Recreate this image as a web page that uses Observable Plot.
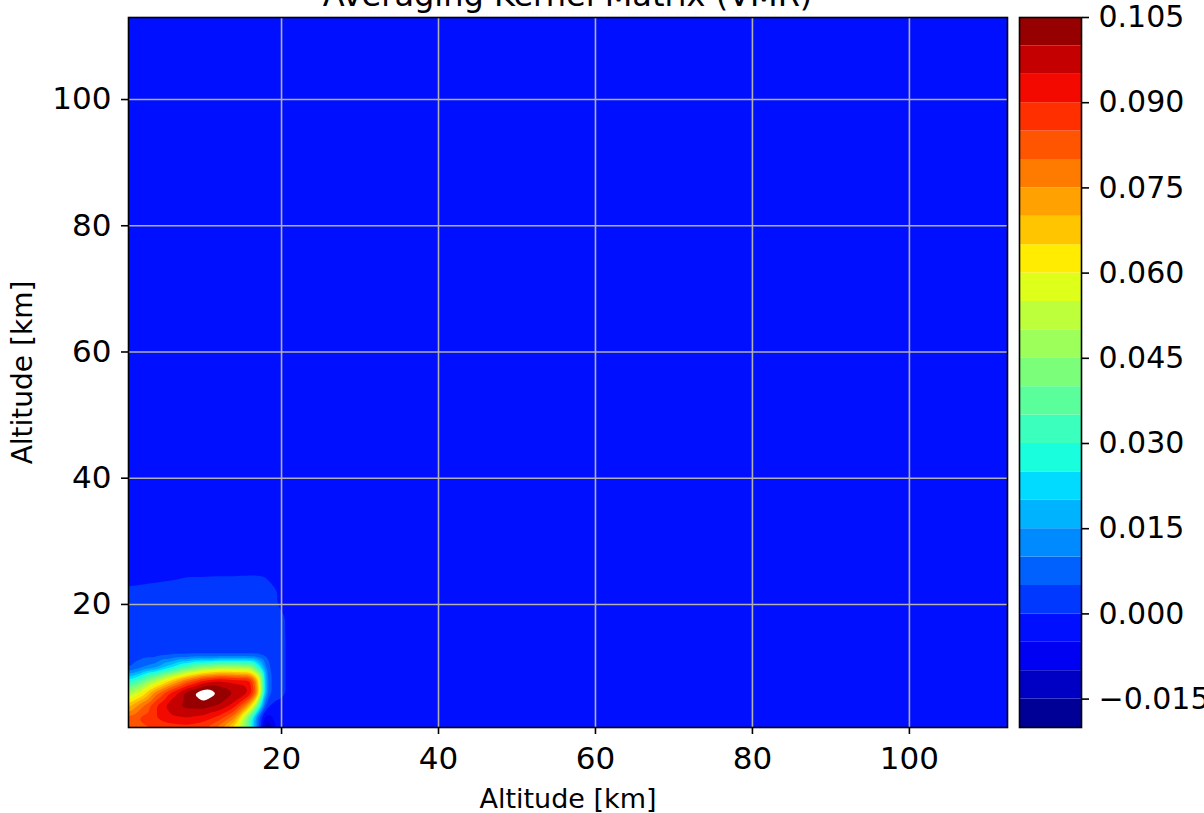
<!DOCTYPE html>
<html><head><meta charset="utf-8">
<script src="https://cdn.jsdelivr.net/npm/d3@7"></script>
<script src="https://cdn.jsdelivr.net/npm/@observablehq/plot@0.6"></script>
<style>
html,body{margin:0;padding:0;background:#fff;overflow:hidden;}
#wrap{position:relative;width:1204px;height:813px;overflow:hidden;font-family:"DejaVu Sans",sans-serif;}
#main{position:absolute;left:0;top:0;}
#cbar{position:absolute;left:1012px;top:0;}
#title{position:absolute;left:0;width:1135px;top:-21px;text-align:center;font-size:32px;line-height:32px;white-space:nowrap;color:#000;z-index:5;}
</style></head>
<body><div id="wrap"><div id="main"></div><div id="cbar"></div><div id="title">Averaging Kernel Matrix (VMR)</div></div>
<script>
// Altitude grid (km) of the estimated kernel values
const xs = [0.5, 2, 4, 6, 8, 10, 12, 14, 16, 17, 18, 19, 20, 21, 23];
const ys = [0.5, 2, 4, 6, 8, 10, 12, 14, 18, 20, 22, 24, 26];
// ak[j][i] = value at (xs[i], ys[j])
const ak = [
  [0.080, 0.083, 0.085, 0.087, 0.088, 0.086, 0.078, 0.062, 0.032, 0.008, -0.018, -0.006, -0.001, -0.001, -0.001],
  [0.082, 0.086, 0.090, 0.094, 0.095, 0.093, 0.088, 0.076, 0.034, 0.006, -0.008, -0.004, -0.001, -0.001, -0.001],
  [0.068, 0.078, 0.090, 0.099, 0.102, 0.103, 0.100, 0.093, 0.070, 0.040, 0.002, -0.001, -0.001, -0.001, -0.001],
  [0.048, 0.058, 0.078, 0.092, 0.103, 0.110, 0.105, 0.100, 0.095, 0.075, 0.012, 0.002, 0.001, -0.001, -0.001],
  [0.026, 0.034, 0.050, 0.066, 0.080, 0.090, 0.095, 0.093, 0.092, 0.070, 0.012, 0.002, 0.001, -0.001, -0.001],
  [0.004, 0.008, 0.013, 0.024, 0.036, 0.045, 0.050, 0.050, 0.048, 0.030, 0.008, 0.002, 0.001, -0.001, -0.001],
  [0.002, 0.003, 0.003, 0.004, 0.004, 0.004, 0.004, 0.004, 0.004, 0.004, 0.003, 0.002, 0.001, -0.001, -0.001],
  [0.002, 0.002, 0.002, 0.002, 0.002, 0.002, 0.002, 0.002, 0.002, 0.002, 0.002, 0.002, 0.001, -0.001, -0.001],
  [0.002, 0.002, 0.002, 0.002, 0.002, 0.002, 0.002, 0.002, 0.002, 0.002, 0.002, 0.0015, 0.0008, -0.001, -0.001],
  [0.002, 0.002, 0.002, 0.002, 0.002, 0.002, 0.002, 0.002, 0.002, 0.002, 0.002, 0.001, -0.001, -0.001, -0.001],
  [0.0015, 0.0018, 0.002, 0.002, 0.002, 0.002, 0.002, 0.002, 0.002, 0.002, 0.002, 0.0008, -0.001, -0.001, -0.001],
  [-0.002, -0.0015, -0.0008, -0.0003, 0.0002, 0.0002, 0.0003, 0.0003, 0.0004, 0.0004, 0.0002, -0.001, -0.001, -0.001, -0.001],
  [-0.001, -0.001, -0.001, -0.001, -0.001, -0.001, -0.001, -0.001, -0.001, -0.001, -0.001, -0.001, -0.001, -0.001, -0.001]
];
// Contour levels and the jet colours of each band
const levels = [-0.02, -0.015, -0.01, -0.005, 0, 0.005, 0.01, 0.015, 0.02, 0.025, 0.03, 0.035, 0.04, 0.045,
  0.05, 0.055, 0.06, 0.065, 0.07, 0.075, 0.08, 0.085, 0.09, 0.095, 0.1, 0.105];
const bandColors = ["#000097", "#0000c5", "#0000f3", "#000fff", "#0038ff", "#0061ff", "#008aff", "#00b3ff",
  "#00dbff", "#19ffde", "#3affbd", "#5aff9c", "#7bff7b", "#9cff5a", "#bdff3a", "#deff19", "#ffec00",
  "#ffc600", "#ffa100", "#ff7b00", "#ff5500", "#ff2f00", "#f30900", "#c50000", "#970000"];
const axisTicks = [20, 40, 60, 80, 100];
const cbTicks = [-0.015, 0, 0.015, 0.03, 0.045, 0.06, 0.075, 0.09, 0.105];

const points = ys.flatMap((y, j) => xs.map((x, i) => ({x, y, v: ak[j][i]})));
const font = {fontFamily: "DejaVu Sans", background: "transparent", color: "black"};

const main = Plot.plot({
  width: 1012, height: 813,
  marginLeft: 128, marginRight: 5, marginTop: 17, marginBottom: 86,
  style: font,
  x: {domain: [0.5, 112.5]},
  y: {domain: [0.5, 113]},
  color: {type: "threshold", domain: levels.slice(1), range: bandColors.concat(["#ffffff"])},
  marks: [
    Plot.contour(points, {x: "x", y: "y", fill: "v", thresholds: levels, interpolate: "barycentric", blur: 2, pixelSize: 1}),
    Plot.gridX(axisTicks, {stroke: "#b0b0b0", strokeOpacity: 1, strokeWidth: 1.6}),
    Plot.gridY(axisTicks, {stroke: "#b0b0b0", strokeOpacity: 1, strokeWidth: 1.6}),
    Plot.frame({stroke: "black", strokeWidth: 1.6}),
    Plot.axisX(axisTicks, {tickSize: 7, tickPadding: 12, fontSize: 31, strokeWidth: 1.6, label: null}),
    Plot.axisY(axisTicks, {tickSize: 7, tickPadding: 10, fontSize: 31, strokeWidth: 1.6, label: null}),
    Plot.text(["Altitude [km]"], {text: d => d, frameAnchor: "bottom", lineAnchor: "middle", textAnchor: "middle", dy: 72, fontSize: 27}),
    Plot.text(["Altitude [km]"], {text: d => d, frameAnchor: "left", lineAnchor: "middle", textAnchor: "middle", dx: -105, rotate: -90, fontSize: 28})
  ]
});
document.getElementById("main").appendChild(main);

const bands = bandColors.map((c, i) => ({lo: levels[i], hi: levels[i + 1], c}));
const cbar = Plot.plot({
  width: 192, height: 813,
  marginLeft: 7, marginRight: 123, marginTop: 17, marginBottom: 86,
  style: font,
  y: {domain: [levels[0], levels[levels.length - 1]]},
  color: {type: "identity"},
  marks: [
    Plot.rect(bands, {y1: "lo", y2: "hi", fill: "c"}),
    Plot.frame({stroke: "black", strokeWidth: 1.6}),
    Plot.axisY(cbTicks, {anchor: "right", tickSize: 7, tickPadding: 10, fontSize: 30, strokeWidth: 1.6,
      tickFormat: d3.format(".3f"), label: null})
  ]
});
document.getElementById("cbar").appendChild(cbar);
</script>
</body></html>
